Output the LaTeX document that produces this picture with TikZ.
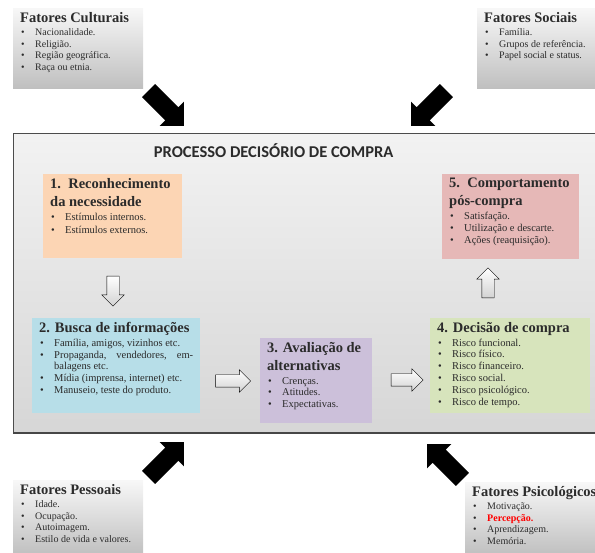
\documentclass[tikz,border=0pt]{standalone}
\usepackage{fontspec}
\setmainfont{Liberation Serif}
\newfontfamily\titlefont{Carlito}
\usepackage{tikz}
\usetikzlibrary{shapes.arrows,positioning}

\definecolor{peach}{HTML}{FCD5B4}
\definecolor{rosy}{HTML}{E6B8B7}
\definecolor{sky}{HTML}{B7DEE8}
\definecolor{lilac}{HTML}{CCC0DA}
\definecolor{lime}{HTML}{D7E4BC}
\definecolor{ink}{HTML}{2B2B2B}

\newcommand{\itm}[1]{\par\noindent\hangindent=15pt\hangafter=1\hspace*{1pt}\makebox[14pt][l]{\textbullet}#1}
\newcommand{\ftitle}[1]{{\fontsize{14.5}{16}\selectfont\bfseries #1\par}\vspace{2pt}}
\newcommand{\stitle}[1]{{\fontsize{14.5}{18}\selectfont\bfseries #1\par}\vspace{2pt}}

\tikzset{
  factor/.style={anchor=north west, inner xsep=7pt, inner ysep=4pt, top color=gray!6,
    bottom color=gray!50, text=ink, font=\fontsize{10}{11.5}\selectfont},
  stage/.style={anchor=north west, inner xsep=7pt, inner ysep=4pt, text=ink,
    font=\fontsize{10.5}{11.8}\selectfont},
  push/.style={single arrow, fill=black, inner xsep=0pt, inner ysep=9pt, minimum height=50pt,
    single arrow head extend=8pt},
  flow/.style={single arrow, draw=black, top color=white, bottom color=gray!35,
    inner xsep=0pt, inner ysep=6pt, single arrow head extend=5pt}
}

\begin{document}
\begin{tikzpicture}[x=1pt,y=-1pt]
  \useasboundingbox (0,0) rectangle (595,553);
  % the four groups of factors
  \node[factor] (cult) at (13,8) {\parbox[t][72pt][t]{116pt}{%
    \ftitle{Fatores Culturais}
    \itm{Nacionalidade.}\itm{Religião.}\itm{Região geográfica.}\itm{Raça ou etnia.}}};
  \node[factor] (soc) at (477,8) {\parbox[t][72pt][t]{104pt}{%
    \ftitle{Fatores Sociais}
    \itm{Família.}\itm{Grupos de referência.}\itm{Papel social e status.}}};
  \node[factor] (pess) at (13,480) {\parbox[t][67pt][t]{116pt}{%
    \ftitle{Fatores Pessoais}
    \itm{Idade.}\itm{Ocupação.}\itm{Autoimagem.}\itm{Estilo de vida e valores.}}};
  \node[factor] (psic) at (465,482) {\parbox[t][65pt][t]{116pt}{%
    \ftitle{\mbox{Fatores Psicológicos}}
    \itm{Motivação.}\itm{\textcolor{red}{\textbf{Percepção.}}}\itm{Aprendizagem.}\itm{Memória.}}};

  % process frame
  \node[anchor=north west, inner sep=0pt, minimum width=590pt, minimum height=299pt,
    top color=gray!10, bottom color=gray!32, draw=gray!60!black, line width=1.2pt]
    (proc) at (13,133) {};
  \draw[gray!55!black, line width=2.5pt] (proc.south west) -- (proc.south east);
  \node[below=7pt of proc.north, xshift=-35pt, font=\titlefont\fontsize{16.5}{18}\selectfont\bfseries, text=ink]
    (ptitle) {PROCESSO DECISÓRIO DE COMPRA};

  % the five stages
  \node[stage, fill=peach] (s1) at (43,174) {\parbox[t][76pt][t]{125pt}{%
    \stitle{1.~~Reconhecimento\\da necessidade}
    \itm{Estímulos internos.}\vspace{2pt}\itm{Estímulos externos.}}};
  \node[stage, fill=sky] (s2) at (32,318) {\parbox[t][87pt][t]{154pt}{%
    \stitle{2. Busca de informações}
    \itm{Família, amigos, vizinhos etc.}
    \itm{Propaganda,\hfill vendedores,\hfill em-\\balagens etc.}
    \itm{Mídia (imprensa, internet) etc.}
    \itm{Manuseio, teste do produto.}}};
  \node[stage, fill=lilac] (s3) at (260,338) {\parbox[t][77pt][t]{98pt}{%
    \stitle{3. Avaliação de\\alternativas}
    \itm{Crenças.}\itm{Atitudes.}\itm{Expectativas.}}};
  \node[stage, fill=lime] (s4) at (430,318) {\parbox[t][87pt][t]{146pt}{%
    \stitle{4. Decisão de compra}
    \itm{Risco funcional.}\itm{Risco físico.}\itm{Risco financeiro.}
    \itm{Risco social.}\itm{Risco psicológico.}\itm{Risco de tempo.}}};
  \node[stage, fill=rosy] (s5) at (442,174) {\parbox[t][77pt][t]{123pt}{%
    \stitle{5.~~Comportamento\\pós-compra}
    \itm{Satisfação.}\itm{Utilização e descarte.}\itm{Ações (reaquisição).}}};

  % flow between stages
  \node[flow, minimum height=30pt, rotate=-90] (f12) at (113,288) {};
  \node[flow, minimum height=35pt] (f23) at (230,381) {};
  \node[flow, minimum height=32pt] (f34) at (404,380) {};
  \node[flow, minimum height=30pt, rotate=90] (f45) at (488,286) {};

  % influence of the factors
  \node[push, rotate=-45] (pc) at (163,105) {};
  \node[push, rotate=-135] (ps) at (432,105) {};
  \node[push, rotate=45] (pp) at (163,463) {};
  \node[push, rotate=135] (pq) at (448,465) {};
\end{tikzpicture}
\end{document}
